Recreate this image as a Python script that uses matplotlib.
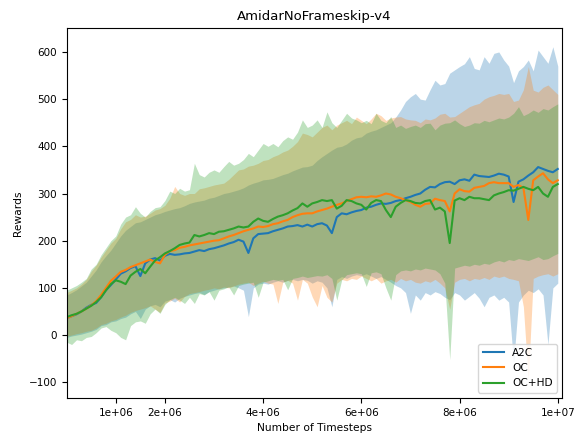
import numpy as np
import matplotlib
matplotlib.use("Agg")
import matplotlib.pyplot as plt

# timesteps, one reading every 1e5 steps
steps = np.arange(101) * 1e5

a2c_mean = [36, 40, 44, 50, 58, 64, 68, 80, 95, 106,
            118, 130, 135, 142, 146, 125, 152, 160, 163, 158,
            168, 172, 170, 171, 173, 174, 177, 180, 178, 182,
            184, 187, 190, 194, 197, 202, 198, 174, 205, 214,
            215, 216, 220, 223, 226, 230, 231, 233, 230, 234,
            230, 235, 237, 232, 216, 250, 258, 256, 260, 263,
            265, 270, 272, 276, 279, 278, 280, 284, 286, 290,
            293, 297, 300, 308, 314, 313, 320, 324, 325, 320,
            328, 330, 327, 340, 337, 336, 335, 338, 342, 340,
            336, 282, 325, 330, 338, 345, 356, 352, 348, 345, 352]
a2c_upper = [85, 90, 96, 104, 112, 125, 138, 155, 168, 180,
             195, 210, 222, 230, 238, 240, 245, 250, 255, 258,
             262, 265, 268, 270, 274, 279, 282, 284, 286, 290,
             292, 296, 300, 302, 305, 308, 312, 318, 322, 325,
             329, 330, 332, 336, 340, 343, 348, 352, 356, 357,
             360, 370, 378, 385, 392, 398, 400, 405, 413, 418,
             420, 428, 432, 435, 440, 445, 450, 462, 477, 495,
             505, 512, 500, 498, 520, 540, 530, 533, 555, 562,
             569, 575, 590, 565, 562, 590, 576, 597, 600, 583,
             570, 535, 560, 569, 583, 560, 604, 590, 576, 611, 570]
a2c_lower = [-5, -2, 0, 2, 5, 8, 12, 20, 22, 28,
             30, 35, 38, 45, 50, 35, 55, 62, 65, 60,
             72, 75, 70, 78, 82, 85, 88, 90, 86, 92,
             95, 98, 100, 102, 104, 100, 95, 39, 100, 108,
             110, 108, 112, 115, 112, 116, 118, 115, 118, 116,
             110, 115, 112, 100, 60, 118, 124, 120, 125, 128,
             126, 130, 125, 120, 124, 118, 112, 105, 100, 90,
             46, 85, 74, 90, 85, 92, 88, 80, 75, 90,
             85, 74, 82, 90, 78, 60, 80, 85, 74, 80,
             70, -60, 70, 85, 95, 90, 98, 85, -20, 100, 110]

oc_mean = [36, 40, 45, 50, 56, 63, 72, 85, 100, 115,
           124, 134, 138, 144, 148, 152, 156, 160, 155, 152,
           170, 178, 180, 185, 187, 190, 192, 194, 196, 198,
           200, 201, 205, 209, 212, 216, 220, 223, 226, 230,
           229, 231, 235, 237, 241, 244, 250, 254, 257, 258,
           258, 262, 265, 268, 272, 276, 279, 284, 288, 292,
           293, 292, 294, 293, 296, 300, 298, 293, 290, 286,
           282, 276, 272, 278, 279, 289, 286, 284, 262, 300,
           309, 305, 304, 312, 314, 316, 322, 324, 322, 322,
           322, 314, 318, 312, 244, 328, 336, 343, 330, 322, 328]
oc_upper = [90, 95, 100, 108, 118, 135, 148, 165, 180, 195,
            205, 225, 240, 245, 255, 250, 252, 258, 265, 268,
            275, 290, 315, 300, 296, 300, 300, 310, 312, 315,
            318, 320, 322, 330, 340, 350, 352, 358, 360, 364,
            370, 372, 378, 382, 388, 392, 400, 410, 428, 425,
            420, 430, 440, 445, 435, 445, 450, 455, 448, 462,
            455, 448, 458, 470, 465, 455, 460, 462, 463, 458,
            456, 455, 450, 458, 456, 460, 468, 470, 462, 463,
            470, 477, 484, 488, 491, 500, 505, 508, 512, 510,
            512, 495, 498, 520, 569, 519, 515, 525, 530, 520, 510]
oc_lower = [-2, 0, 3, 5, 8, 10, 15, 22, 25, 30,
            33, 38, 42, 48, 52, 55, 58, 62, 55, 48,
            68, 72, 78, 70, 82, 88, 90, 92, 95, 97,
            100, 98, 102, 100, 104, 108, 110, 112, 105, 110,
            114, 110, 108, 67, 112, 116, 110, 74, 118, 110,
            81, 60, 105, 80, 70, 110, 118, 115, 120, 118,
            125, 120, 115, 120, 110, 115, 118, 112, 120, 115,
            118, 112, 110, 115, 112, 118, 110, 100, 55, 112,
            118, 120, 115, 120, 118, 122, 118, 125, 122, 125,
            120, 118, 115, 60, -95, 120, 125, 128, 130, 125, 130]

ochd_mean = [38, 42, 45, 50, 56, 62, 70, 80, 95, 108,
             116, 113, 108, 126, 134, 140, 131, 145, 158, 165,
             173, 178, 184, 191, 194, 196, 212, 209, 212, 216,
             214, 219, 220, 223, 226, 230, 228, 230, 240, 247,
             242, 240, 246, 251, 254, 258, 264, 269, 279, 272,
             279, 282, 286, 284, 286, 268, 274, 286, 284, 279,
             276, 266, 280, 286, 284, 265, 250, 272, 280, 286,
             284, 280, 279, 284, 286, 266, 270, 262, 195, 285,
             290, 286, 293, 290, 290, 288, 286, 296, 300, 303,
             307, 306, 310, 314, 310, 307, 314, 300, 293, 314, 320]
ochd_upper = [95, 100, 105, 112, 120, 140, 150, 170, 185, 200,
              210, 235, 250, 255, 272, 258, 250, 262, 270, 272,
              285, 305, 300, 311, 305, 308, 364, 340, 335, 345,
              350, 345, 357, 368, 360, 364, 372, 385, 378, 392,
              406, 400, 406, 399, 412, 420, 415, 430, 456, 440,
              445, 456, 440, 473, 450, 440, 455, 470, 460, 456,
              450, 455, 448, 470, 455, 450, 463, 440, 445, 438,
              442, 445, 440, 448, 449, 435, 445, 449, 450, 456,
              448, 442, 445, 450, 449, 455, 452, 456, 460, 458,
              462, 470, 484, 465, 470, 477, 472, 480, 477, 484, 490]
ochd_lower = [-15, -20, -10, -12, -5, -3, 5, 15, 18, 10,
              5, -5, -10, 20, 28, 30, 25, 45, 55, 46,
              65, 75, 80, 74, 67, 80, 67, 88, 85, 92,
              74, 95, 98, 102, 85, 105, 108, 110, 112, 80,
              112, 115, 118, 116, 118, 96, 120, 122, 125, 122,
              124, 126, 125, 128, 120, 74, 117, 128, 130, 132,
              130, 103, 132, 134, 130, 100, 74, 128, 136, 138,
              136, 140, 138, 142, 140, 138, 130, 110, -52, 142,
              145, 148, 146, 150, 148, 152, 150, 155, 158, 155,
              160, 158, 162, 160, 158, 162, 166, 160, 162, 168, 173]

labels = ["A2C", "OC", "OC+HD"]
xtick_vals = [1e6, 2e6, 4e6, 6e6, 8e6, 1e7]

fig = plt.figure(figsize=(5.85, 4.43), dpi=100)
ax = fig.add_axes([0.114, 0.102, 0.847, 0.834])

runs = [(a2c_mean, a2c_lower, a2c_upper),
        (oc_mean, oc_lower, oc_upper),
        (ochd_mean, ochd_lower, ochd_upper)]

for i, (mean, lo, hi) in enumerate(runs):
    ax.fill_between(steps, lo, hi, color=f"C{i}", alpha=0.3, linewidth=0)
for i, (mean, lo, hi) in enumerate(runs):
    ax.plot(steps, mean, color=f"C{i}", linewidth=1.5, label=labels[i])

ax.set_xlim(0, 1.009e7)
ax.set_ylim(-133, 650)
ax.set_xticks(xtick_vals)
ax.set_xticklabels(["%g" % v for v in xtick_vals])
ax.tick_params(labelsize=7.5)
ax.set_xlabel("Number of Timesteps", fontsize=7.7)
ax.set_ylabel("Rewards", fontsize=7.7)
ax.set_title("AmidarNoFrameskip-v4", fontsize=9.5)
ax.legend(loc="lower right", fontsize=7.6)

fig.savefig("out.png", dpi=100)
